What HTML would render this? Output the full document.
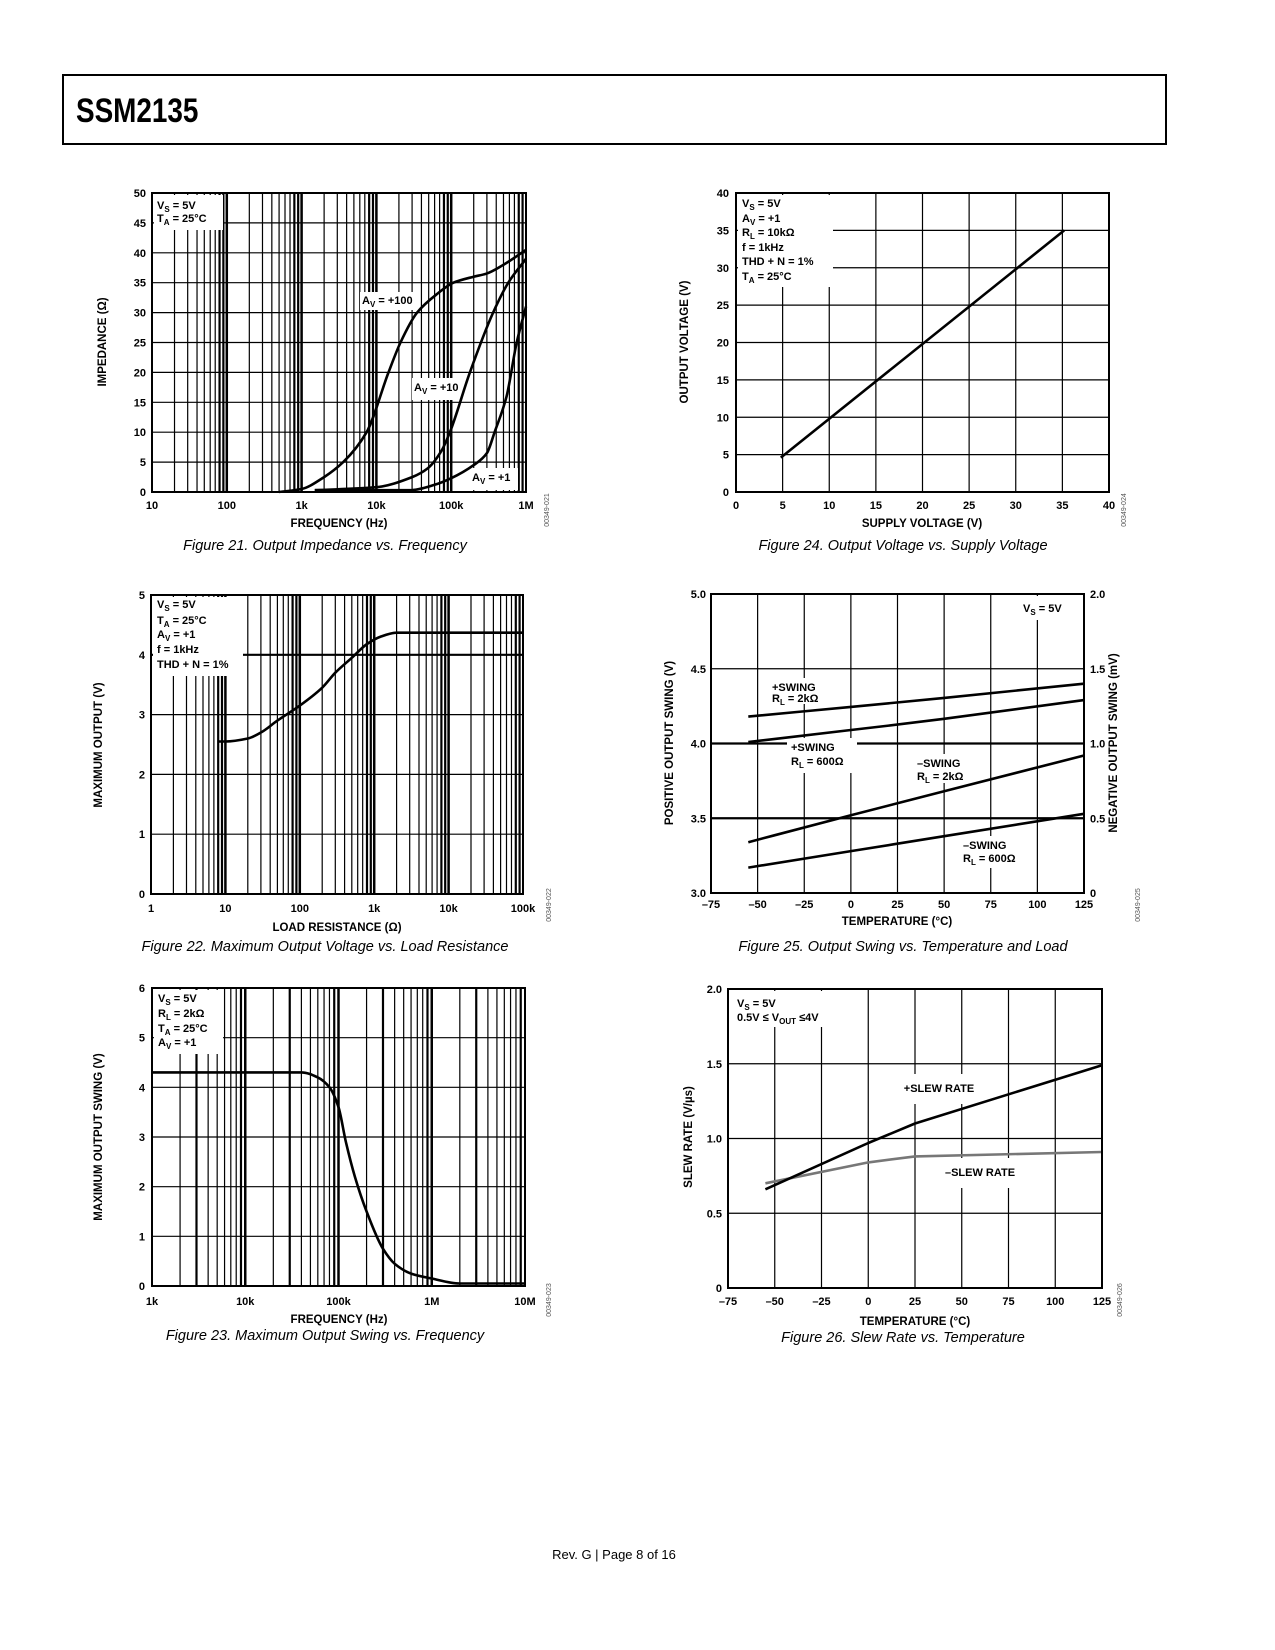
<!DOCTYPE html>
<html><head><meta charset="utf-8"><title>SSM2135 Page 8</title>
<style>
html,body{margin:0;padding:0;background:#fff;}
svg{display:block;font-family:"Liberation Sans",sans-serif;}
.t{font-size:11px;font-weight:bold;fill:#000;}
.ax{font-size:11.5px;font-weight:bold;fill:#000;}
.cap{font-size:14.5px;font-style:italic;fill:#000;}
.code{font-size:7px;fill:#555;}
</style></head><body>
<svg id="page" width="1275" height="1650" viewBox="0 0 1275 1650" xmlns="http://www.w3.org/2000/svg">
<rect x="0" y="0" width="1275" height="1650" fill="#fff"/>
<rect x="63" y="75" width="1103" height="69" fill="none" stroke="#000" stroke-width="2"/>
<text x="76" y="122" font-size="34" font-weight="bold" transform="translate(76 0) scale(0.82 1) translate(-76 0)">SSM2135</text>
<g id="grid"></g>
<g id="masks" fill="#fff">
<rect x="154" y="195" width="69" height="35"/>
<rect x="360" y="292" width="58" height="18"/>
<rect x="412" y="378" width="53" height="22"/>
<rect x="470" y="468" width="48" height="22"/>
<rect x="738" y="195" width="95" height="92"/>
<rect x="153" y="597" width="90" height="79"/>
<rect x="154" y="990" width="69" height="64"/>
<rect x="1020" y="596" width="60" height="24"/>
<rect x="770" y="678" width="60" height="26"/>
<rect x="787" y="738" width="70" height="35"/>
<rect x="912" y="754" width="60" height="29"/>
<rect x="960" y="836" width="66" height="32"/>
<rect x="730" y="991" width="103" height="36"/>
<rect x="895" y="1074" width="88" height="30"/>
<rect x="935" y="1158" width="90" height="30"/>
</g>
<g id="curves"></g>
<g id="boxes"></g>
<g id="ticks"></g>
<g id="ann" class="t">
<text x="157" y="209">V<tspan dy="3" font-size="8">S</tspan><tspan dy="-3"> = 5V</tspan></text>
<text x="157" y="222">T<tspan dy="3" font-size="8">A</tspan><tspan dy="-3"> = 25°C</tspan></text>
<text x="362" y="304">A<tspan dy="3" font-size="8">V</tspan><tspan dy="-3"> = +100</tspan></text>
<text x="414" y="391">A<tspan dy="3" font-size="8">V</tspan><tspan dy="-3"> = +10</tspan></text>
<text x="472" y="481">A<tspan dy="3" font-size="8">V</tspan><tspan dy="-3"> = +1</tspan></text>
<text x="742" y="207">V<tspan dy="3" font-size="8">S</tspan><tspan dy="-3"> = 5V</tspan></text>
<text x="742" y="222">A<tspan dy="3" font-size="8">V</tspan><tspan dy="-3"> = +1</tspan></text>
<text x="742" y="236">R<tspan dy="3" font-size="8">L</tspan><tspan dy="-3"> = 10kΩ</tspan></text>
<text x="742" y="251">f = 1kHz</text>
<text x="742" y="265">THD + N = 1%</text>
<text x="742" y="280">T<tspan dy="3" font-size="8">A</tspan><tspan dy="-3"> = 25°C</tspan></text>
<text x="157" y="608">V<tspan dy="3" font-size="8">S</tspan><tspan dy="-3"> = 5V</tspan></text>
<text x="157" y="624">T<tspan dy="3" font-size="8">A</tspan><tspan dy="-3"> = 25°C</tspan></text>
<text x="157" y="638">A<tspan dy="3" font-size="8">V</tspan><tspan dy="-3"> = +1</tspan></text>
<text x="157" y="653">f = 1kHz</text>
<text x="157" y="668">THD + N = 1%</text>
<text x="158" y="1002">V<tspan dy="3" font-size="8">S</tspan><tspan dy="-3"> = 5V</tspan></text>
<text x="158" y="1017">R<tspan dy="3" font-size="8">L</tspan><tspan dy="-3"> = 2kΩ</tspan></text>
<text x="158" y="1032">T<tspan dy="3" font-size="8">A</tspan><tspan dy="-3"> = 25°C</tspan></text>
<text x="158" y="1046">A<tspan dy="3" font-size="8">V</tspan><tspan dy="-3"> = +1</tspan></text>
<text x="1023" y="612">V<tspan dy="3" font-size="8">S</tspan><tspan dy="-3"> = 5V</tspan></text>
<text x="772" y="691">+SWING</text>
<text x="772" y="702">R<tspan dy="3" font-size="8">L</tspan><tspan dy="-3"> = 2kΩ</tspan></text>
<text x="791" y="751">+SWING</text>
<text x="791" y="765">R<tspan dy="3" font-size="8">L</tspan><tspan dy="-3"> = 600Ω</tspan></text>
<text x="917" y="767">–SWING</text>
<text x="917" y="780">R<tspan dy="3" font-size="8">L</tspan><tspan dy="-3"> = 2kΩ</tspan></text>
<text x="963" y="849">–SWING</text>
<text x="963" y="862">R<tspan dy="3" font-size="8">L</tspan><tspan dy="-3"> = 600Ω</tspan></text>
<text x="737" y="1007">V<tspan dy="3" font-size="8">S</tspan><tspan dy="-3"> = 5V</tspan></text>
<text x="737" y="1021">0.5V ≤ V<tspan dy="3" font-size="8">OUT</tspan><tspan dy="-3"> ≤4V</tspan></text>
<text x="939" y="1092" text-anchor="middle">+SLEW RATE</text>
<text x="980" y="1176" text-anchor="middle">–SLEW RATE</text>
</g>
<g id="titles"></g>
<text class="cap" x="325" y="550" text-anchor="middle">Figure 21. Output Impedance vs. Frequency</text>
<text class="cap" x="903" y="550" text-anchor="middle">Figure 24. Output Voltage vs. Supply Voltage</text>
<text class="cap" x="325" y="951" text-anchor="middle">Figure 22. Maximum Output Voltage vs. Load Resistance</text>
<text class="cap" x="903" y="951" text-anchor="middle">Figure 25. Output Swing vs. Temperature and Load</text>
<text class="cap" x="325" y="1340" text-anchor="middle">Figure 23. Maximum Output Swing vs. Frequency</text>
<text class="cap" x="903" y="1342" text-anchor="middle">Figure 26. Slew Rate vs. Temperature</text>
<text x="614" y="1559" font-size="13" text-anchor="middle">Rev. G | Page 8 of 16</text>
</svg>
<script>
// ---- Figure 21 data ----
const f21FreqA100 = [500,1000,2000,3600,7400,14500,21000,35000,63000,107000,200000,295000,500000,1000000];
const f21ZA100    = [0,0.5,2.5,5,10,20,25,30,33,35,36,36.5,38,40.5];
const f21FreqA10  = [1500,10000,30000,49000,75000,96000,178000,363000,580000,1000000];
const f21ZA10     = [0.3,0.8,2.5,4,7,10,20,30,35,39];
const f21FreqA1   = [1500,28000,60000,100000,200000,300000,380000,550000,750000,1000000];
const f21ZA1      = [0.3,0.3,1.2,2.3,4.5,6.5,10,16,25,31];
const f21XTicks = ["10","100","1k","10k","100k","1M"];
const f21YTicks = ["0","5","10","15","20","25","30","35","40","45","50"];
// ---- Figure 22 data ----
const f22R = [8,10,20,30,50,100,200,300,500,800,1200,2000,100000];
const f22V = [2.55,2.55,2.6,2.7,2.9,3.15,3.45,3.7,3.95,4.18,4.3,4.37,4.37];
const f22XTicks = ["1","10","100","1k","10k","100k"];
const f22YTicks = ["0","1","2","3","4","5"];
// ---- Figure 23 data ----
const f23Freq = [1000,40000,60000,80000,100000,120000,150000,200000,300000,400000,600000,1000000,2000000,10000000];
const f23V    = [4.3,4.3,4.2,4.0,3.6,2.9,2.2,1.5,0.75,0.45,0.25,0.15,0.05,0.05];
const f23XTicks = ["1k","10k","100k","1M","10M"];
const f23YTicks = ["0","1","2","3","4","5","6"];
// ---- Figure 24 data ----
const f24Supply = [4.8,35.2];
const f24Out    = [4.6,35.0];
const f24XTicks = ["0","5","10","15","20","25","30","35","40"];
const f24YTicks = ["0","5","10","15","20","25","30","35","40"];
// ---- Figure 25 data ----
const f25Temp = [-55,0,50,125];
const f25PosSwing2k  = [4.18,4.245,4.305,4.40];
const f25PosSwing600 = [4.01,4.09,4.165,4.29];
const f25NegSwing2k  = [0.34,0.52,0.68,0.92];
const f25NegSwing600 = [0.17,0.28,0.38,0.53];
const f25XTicks = ["–75","–50","–25","0","25","50","75","100","125"];
const f25YTicksL = ["3.0","3.5","4.0","4.5","5.0"];
const f25YTicksR = ["0","0.5","1.0","1.5","2.0"];
// ---- Figure 26 data ----
const f26Temp = [-55,0,25,125];
const f26PosSlew = [0.66,0.97,1.10,1.49];
const f26NegSlew = [0.70,0.84,0.88,0.91];
const f26XTicks = ["–75","–50","–25","0","25","50","75","100","125"];
const f26YTicks = ["0","0.5","1.0","1.5","2.0"];

const NS = "http://www.w3.org/2000/svg";
const G = id => document.getElementById(id);
function el(parent, tag, attrs){const e=document.createElementNS(NS,tag);for(const k in attrs)e.setAttribute(k,attrs[k]);G(parent).appendChild(e);return e;}
function lin(d0,d1,r0,r1){return v=>r0+(v-d0)/(d1-d0)*(r1-r0);}
function logS(d0,d1,r0,r1){const a=Math.log10(d0),b=Math.log10(d1);return v=>r0+(Math.log10(v)-a)/(b-a)*(r1-r0);}
// monotone cubic (Fritsch-Carlson) in pixel space
function smooth(pts){
  const n=pts.length;
  if(n<3){return "M"+pts.map(p=>p[0].toFixed(1)+","+p[1].toFixed(1)).join(" L");}
  const dx=[],s=[];
  for(let i=0;i<n-1;i++){dx[i]=pts[i+1][0]-pts[i][0];s[i]=(pts[i+1][1]-pts[i][1])/dx[i];}
  const m=[s[0]];
  for(let i=1;i<n-1;i++){ if(s[i-1]*s[i]<=0)m[i]=0; else {const w1=2*dx[i]+dx[i-1],w2=dx[i]+2*dx[i-1];m[i]=(w1+w2)/(w1/s[i-1]+w2/s[i]);}}
  m[n-1]=s[n-2];
  let d="M"+pts[0][0].toFixed(1)+","+pts[0][1].toFixed(1);
  for(let i=0;i<n-1;i++){
    const h=dx[i];
    const c1=[pts[i][0]+h/3,pts[i][1]+m[i]*h/3];
    const c2=[pts[i+1][0]-h/3,pts[i+1][1]-m[i+1]*h/3];
    d+=" C"+c1[0].toFixed(1)+","+c1[1].toFixed(1)+" "+c2[0].toFixed(1)+","+c2[1].toFixed(1)+" "+pts[i+1][0].toFixed(1)+","+pts[i+1][1].toFixed(1);
  }
  return d;
}
function line(x1,y1,x2,y2,w){return el("grid","line",{x1,y1,x2,y2,stroke:"#000","stroke-width":w});}
function box(b,name){const r=el("boxes","rect",{x:b.x0,y:b.y0,width:b.x1-b.x0,height:b.y1-b.y0,fill:"none",stroke:"#000","stroke-width":2});
  
  }
function logGrid(b,xs,d0,decades,thick){
  for(let d=0;d<decades;d++){for(let m=1;m<=9;m++){const v=d0*Math.pow(10,d)*m;const x=xs(v);
    if(x>b.x0+1&&x<b.x1-1)line(x,b.y0,x,b.y1,m===1?2.5:(thick&&thick.includes(m)?2.2:1.2));}}
}
function hGrid(b,ys,vals,w){vals.forEach(v=>line(b.x0,ys(v),b.x1,ys(v),w||1.2));}
function vGrid(b,xs,vals,w){vals.forEach(v=>line(xs(v),b.y0,xs(v),b.y1,w||1.2));}
function tickText(x,y,s,anchor,name){const t=el("ticks","text",{x,y,"text-anchor":anchor,class:"t"});t.textContent=s;
  
  }
function title(x,y,s,rot,name){const t=el("titles","text",{x,y,"text-anchor":"middle",class:"ax"});t.textContent=s;
  if(rot)t.setAttribute("transform","rotate(-90 "+x+" "+y+")");
  
  }
function code(x,y,s){const t=el("titles","text",{x,y,"text-anchor":"middle",class:"code",transform:"rotate(-90 "+x+" "+y+")"});t.textContent=s;
  
  }
function curve(xs,ys,X,Y,name,color,w){const pts=X.map((v,i)=>[xs(v),ys(Y[i])]);
  const p=el("curves","path",{d:smooth(pts),fill:"none",stroke:color||"#000","stroke-width":w||2.6,"stroke-linejoin":"round"});
  
  }
function straight(xs,ys,X,Y,name,color,w){const d="M"+X.map((v,i)=>xs(v).toFixed(1)+","+ys(Y[i]).toFixed(1)).join(" L");
  const p=el("curves","path",{d,fill:"none",stroke:color||"#000","stroke-width":w||2.6,"stroke-linejoin":"round"});
  
  }

// Figure 21
(function(){const b={x0:152,y0:193,x1:526,y1:492};const xs=logS(10,1e6,b.x0,b.x1),ys=lin(0,50,b.y1,b.y0);
  logGrid(b,xs,10,5,[8,9]);hGrid(b,ys,[5,10,15,20,25,30,35,40,45]);
  curve(xs,ys,f21FreqA100,f21ZA100,"curve-av100");curve(xs,ys,f21FreqA10,f21ZA10,"curve-av10");curve(xs,ys,f21FreqA1,f21ZA1,"curve-av1");
  box(b,"fig21-plot-area");
  f21XTicks.forEach((s,i)=>tickText(xs(10*Math.pow(10,i)),509,s,"middle","fig21-x-tick"));
  f21YTicks.forEach((s,i)=>tickText(146,ys(i*5)+4,s,"end","fig21-y-tick"));
  title(339,527,"FREQUENCY (Hz)",false,"fig21-x-axis-title");title(106,342,"IMPEDANCE (Ω)",true,"fig21-y-axis-title");code(549,510,"00349-021");})();
// Figure 24
(function(){const b={x0:736,y0:193,x1:1109,y1:492};const xs=lin(0,40,b.x0,b.x1),ys=lin(0,40,b.y1,b.y0);
  vGrid(b,xs,[5,10,15,20,25,30,35]);hGrid(b,ys,[5,10,15,20,25,30,35]);
  straight(xs,ys,f24Supply,f24Out,"line-output-voltage");box(b,"fig24-plot-area");
  f24XTicks.forEach((s,i)=>tickText(xs(i*5),509,s,"middle","fig24-x-tick"));
  f24YTicks.forEach((s,i)=>tickText(729,ys(i*5)+4,s,"end","fig24-y-tick"));
  title(922,527,"SUPPLY VOLTAGE (V)",false,"fig24-x-axis-title");title(688,342,"OUTPUT VOLTAGE (V)",true,"fig24-y-axis-title");code(1126,510,"00349-024");})();
// Figure 22
(function(){const b={x0:151,y0:595,x1:523,y1:894};const xs=logS(1,1e5,b.x0,b.x1),ys=lin(0,5,b.y1,b.y0);
  logGrid(b,xs,1,5,[8,9]);hGrid(b,ys,[1,2,3]);hGrid(b,ys,[4],2.2);
  curve(xs,ys,f22R,f22V,"curve-max-output");box(b,"fig22-plot-area");
  f22XTicks.forEach((s,i)=>tickText(xs(Math.pow(10,i)),912,s,"middle","fig22-x-tick"));
  f22YTicks.forEach((s,i)=>tickText(145,ys(i)+4,s,"end","fig22-y-tick"));
  title(337,931,"LOAD RESISTANCE (Ω)",false,"fig22-x-axis-title");title(102,745,"MAXIMUM OUTPUT (V)",true,"fig22-y-axis-title");code(551,905,"00349-022");})();
// Figure 23
(function(){const b={x0:152,y0:988,x1:525,y1:1286};const xs=logS(1e3,1e7,b.x0,b.x1),ys=lin(0,6,b.y1,b.y0);
  logGrid(b,xs,1e3,4,[3,9]);hGrid(b,ys,[1,2,3,4,5]);
  curve(xs,ys,f23Freq,f23V,"curve-max-swing");box(b,"fig23-plot-area");
  f23XTicks.forEach((s,i)=>tickText(xs(1e3*Math.pow(10,i)),1305,s,"middle","fig23-x-tick"));
  f23YTicks.forEach((s,i)=>tickText(145,ys(i)+4,s,"end","fig23-y-tick"));
  title(339,1323,"FREQUENCY (Hz)",false,"fig23-x-axis-title");title(102,1137,"MAXIMUM OUTPUT SWING (V)",true,"fig23-y-axis-title");code(551,1300,"00349-023");})();
// Figure 25
(function(){const b={x0:711,y0:594,x1:1084,y1:893};const xs=lin(-75,125,b.x0,b.x1),ys=lin(3,5,b.y1,b.y0),yr=lin(0,2,b.y1,b.y0);
  vGrid(b,xs,[-50,-25,0,25,50,75,100]);hGrid(b,ys,[4.5]);hGrid(b,ys,[3.5,4.0],2.2);
  curve(xs,ys,f25Temp,f25PosSwing2k,"curve-pos-swing-2k");curve(xs,ys,f25Temp,f25PosSwing600,"curve-pos-swing-600");
  curve(xs,yr,f25Temp,f25NegSwing2k,"curve-neg-swing-2k");curve(xs,yr,f25Temp,f25NegSwing600,"curve-neg-swing-600");
  box(b,"fig25-plot-area");
  f25XTicks.forEach((s,i)=>tickText(xs(-75+i*25),908,s,"middle","fig25-x-tick"));
  f25YTicksL.forEach((s,i)=>tickText(706,ys(3+i*0.5)+4,s,"end","fig25-left-y-tick"));
  f25YTicksR.forEach((s,i)=>tickText(1090,yr(i*0.5)+4,s,"start","fig25-right-y-tick"));
  title(897,925,"TEMPERATURE (°C)",false,"fig25-x-axis-title");title(673,743,"POSITIVE OUTPUT SWING (V)",true,"fig25-left-y-axis-title");
  title(1117,743,"NEGATIVE OUTPUT SWING (mV)",true,"fig25-right-y-axis-title");code(1140,905,"00349-025");})();
// Figure 26
(function(){const b={x0:728,y0:989,x1:1102,y1:1288};const xs=lin(-75,125,b.x0,b.x1),ys=lin(0,2,b.y1,b.y0);
  vGrid(b,xs,[-50,-25,0,25,50,75,100]);hGrid(b,ys,[0.5,1.0,1.5]);
  straight(xs,ys,f26Temp,f26NegSlew,"curve-neg-slew","#777");straight(xs,ys,f26Temp,f26PosSlew,"curve-pos-slew");
  box(b,"fig26-plot-area");
  f26XTicks.forEach((s,i)=>tickText(xs(-75+i*25),1305,s,"middle","fig26-x-tick"));
  f26YTicks.forEach((s,i)=>tickText(722,ys(i*0.5)+4,s,"end","fig26-y-tick"));
  title(915,1325,"TEMPERATURE (°C)",false,"fig26-x-axis-title");title(692,1137,"SLEW RATE (V/µs)",true,"fig26-y-axis-title");code(1122,1300,"00349-026");})();
</script>
</body></html>
